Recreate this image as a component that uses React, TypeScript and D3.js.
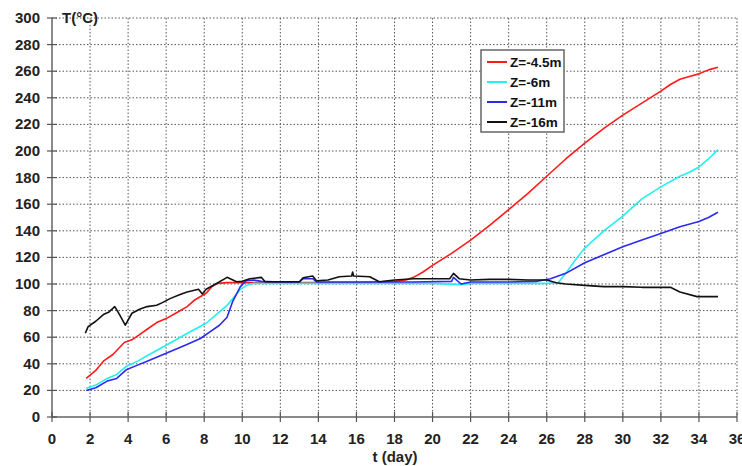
import React from 'react';
import * as d3 from 'd3';

// temperature vs time, one [day, °C] list per depth
const z45: [number, number][] = [
  [1.8, 29], [2.3, 35], [2.7, 42], [3.2, 47], [3.8, 56], [4.2, 58], [4.6, 62], [5.0, 66],
  [5.5, 71], [6.0, 74], [6.5, 78], [7.1, 83], [7.5, 88], [8.1, 93], [8.4, 98], [8.7, 100.5],
  [9.2, 101], [10, 101], [11, 101], [12, 101], [13, 101], [14, 101], [15, 101], [16, 101],
  [17, 101.5], [18, 102], [18.6, 103], [19, 105], [19.5, 109], [20, 114], [21, 123],
  [22, 133], [23, 144], [24, 156], [25, 168], [26, 181], [27, 194], [28, 206], [29, 217],
  [30, 227], [31, 236], [32, 245], [32.5, 250], [33, 254], [33.5, 256], [34, 258],
  [34.5, 261], [35, 263],
];

const z6: [number, number][] = [
  [1.8, 21.5], [2.3, 24], [2.9, 29], [3.4, 32], [3.9, 38], [4.5, 42], [5.0, 46], [6.0, 54],
  [7.0, 62], [8.1, 70.5], [8.8, 79], [9.2, 84], [9.5, 89], [9.9, 96], [10.3, 99.5],
  [10.6, 100.5], [12, 100.5], [14, 100.5], [16, 100.5], [18, 100.5], [20, 100.5],
  [21.5, 99.5], [22, 100.5], [24, 100.5], [26, 100.5], [26.6, 101], [27, 108],
  [27.5, 118], [28, 127], [29, 140], [30, 151], [31, 164], [32, 173], [33, 181],
  [33.5, 184], [34, 188], [34.5, 194], [35, 201],
];

const z11: [number, number][] = [
  [1.8, 20], [2.3, 22], [2.9, 27], [3.4, 29], [3.9, 35.5], [4.5, 39], [5.0, 42], [6.0, 48],
  [7.0, 54], [7.8, 59], [8.3, 64], [8.8, 69], [9.2, 75], [9.5, 87], [9.9, 98], [10.2, 102.5],
  [10.6, 103], [11, 102], [12, 101.5], [13, 101.5], [13.2, 104], [13.7, 104], [13.9, 101.5],
  [15, 101.5], [17, 101.5], [19, 101.5], [21, 102], [21.1, 105], [21.5, 100],
  [22, 101.5], [24, 101.5], [25.5, 102], [26.2, 104], [27, 108], [28, 116], [29, 122],
  [30, 128], [31, 133], [32, 138], [33, 143], [34, 147], [34.5, 150], [35, 154],
];

const z16: [number, number][] = [
  [1.75, 63], [1.9, 68], [2.3, 72], [2.7, 77], [3.0, 79], [3.3, 83], [3.55, 77], [3.85, 69],
  [4.2, 78], [4.6, 81], [5.0, 83], [5.5, 84], [5.8, 86], [6.2, 89], [6.7, 92], [7.1, 94],
  [7.7, 96], [7.9, 92.5], [8.1, 96], [8.6, 100], [9.2, 105], [9.7, 101.7], [10.0, 102],
  [10.4, 104], [11, 105], [11.2, 101.7], [12, 101.7], [13, 101.7], [13.2, 104.7],
  [13.7, 106], [13.9, 102.5], [14.5, 103], [15.1, 105.5], [15.75, 106], [15.8, 109],
  [15.85, 106], [16.7, 105.5], [17.2, 101.7], [18, 103], [19, 104], [20, 104], [20.9, 104],
  [21.1, 108], [21.4, 104], [22, 103], [23, 103.5], [24, 103.5], [25, 103], [26, 103],
  [26.5, 101], [27, 100], [28, 99], [29, 98], [30, 98], [31, 97.5], [32.5, 97.5],
  [33, 94], [33.9, 90.5], [35, 90.5],
];

const seriesNames = ['Z=-4.5m', 'Z=-6m', 'Z=-11m', 'Z=-16m'];
const seriesColors = ['#ff1a1a', '#22f0f0', '#2a2af0', '#111111'];
const seriesData = [z45, z6, z11, z16];

const xTicks = d3.range(0, 37, 2);
const yTicks = d3.range(0, 301, 20);

export default function App() {
  const x = d3.scaleLinear().domain([0, 36]).range([52, 737]);
  const y = d3.scaleLinear().domain([0, 300]).range([417, 18]);
  const line = d3.line<[number, number]>().x(d => x(d[0])).y(d => y(d[1]));
  const font = '"Liberation Sans", Arial, sans-serif';

  return (
    <svg width={742} height={466} style={{ position: 'absolute', left: 0, top: 0, background: '#fff' }}
      fontFamily={font} fontWeight="bold">
      {/* grid */}
      {yTicks.filter(t => t > 0).map(t => (
        <line key={'gy' + t} x1={52} x2={737} y1={y(t)} y2={y(t)}
          stroke="#555" strokeWidth={1} strokeDasharray="1.5,2" />
      ))}
      {xTicks.filter(t => t > 0).map(t => (
        <line key={'gx' + t} x1={x(t)} x2={x(t)} y1={18} y2={417}
          stroke="#555" strokeWidth={1} strokeDasharray="1.5,2" />
      ))}

      {/* axes */}
      <line x1={52} x2={52} y1={18} y2={418} stroke="#8a8a8a" strokeWidth={2} />
      <line x1={51} x2={737} y1={417} y2={417} stroke="#8a8a8a" strokeWidth={2} />
      {yTicks.map(t => (
        <g key={'yt' + t}>
          <line x1={47} x2={57} y1={y(t)} y2={y(t)} stroke="#555" strokeWidth={1.2} />
          <text x={40} y={y(t) + 5} textAnchor="end" fontSize={15} fill="#222">{t}</text>
        </g>
      ))}
      {xTicks.map(t => (
        <g key={'xt' + t}>
          <line x1={x(t)} x2={x(t)} y1={412} y2={422} stroke="#555" strokeWidth={1.2} />
          <text x={x(t)} y={444} textAnchor="middle" fontSize={15} fill="#222">{t}</text>
        </g>
      ))}
      <text x={62} y={23} fontSize={15} fill="#222">T(°C)</text>
      <text x={395} y={462} textAnchor="middle" fontSize={15} fill="#222">t (day)</text>

      {/* series */}
      {seriesData.map((s, i) => (
        <path key={seriesNames[i]} d={line(s) ?? ''} fill="none"
          stroke={seriesColors[i]} strokeWidth={1.6} strokeLinejoin="round" />
      ))}

      {/* legend */}
      <rect x={481} y={50} width={83} height={82} fill="#fff" stroke="#666" strokeWidth={1.5} />
      {seriesNames.map((n, i) => (
        <g key={'lg' + n} transform={`translate(0,${62 + i * 20})`}>
          <line x1={487} x2={507} y1={0} y2={0} stroke={seriesColors[i]} strokeWidth={2} />
          <text x={510} y={5} fontSize={13.5} fill="#111">{n}</text>
        </g>
      ))}
    </svg>
  );
}
